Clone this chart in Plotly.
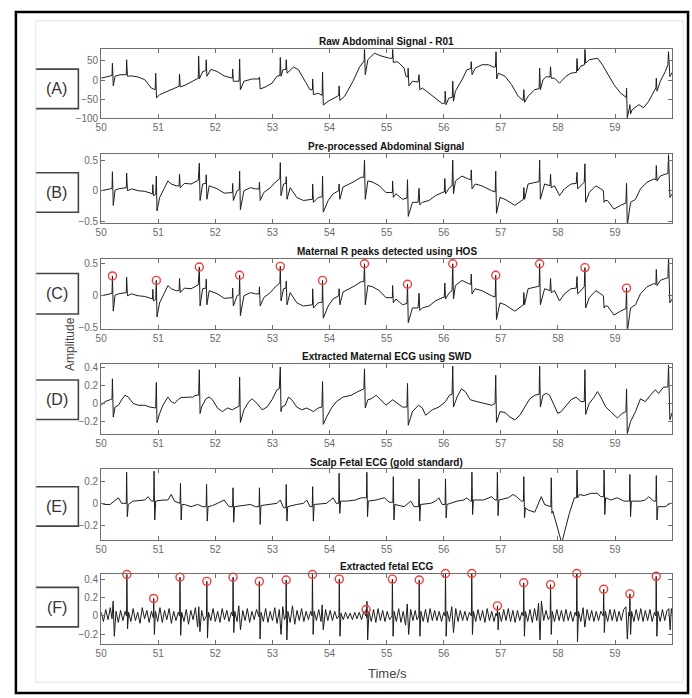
import plotly.graph_objects as go

W, H = 692, 698

# ---------------- data (time in s, amplitude) ----------------
raw_abd = [(50.000, 5), (50.069, 8), (50.156, 11), (50.190, 12), (50.197, 44), (50.212, -15), (50.243, 10),
           (50.330, 14), (50.440, 14), (50.446, 53), (50.460, 10), (50.532, 11), (50.648, 8), (50.764, 1),
           (50.880, -21), (50.945, -25), (50.955, 18), (50.970, -46), (51.024, -38), (51.169, -29), (51.285, -21),
           (51.365, -16), (51.372, 16), (51.385, -18), (51.487, -12), (51.632, 1), (51.700, 5), (51.707, 63),
           (51.720, 3), (51.777, 22), (51.834, 25), (51.840, 53), (51.852, 10), (51.921, 28), (52.037, 22),
           (52.153, 11), (52.269, 5), (52.297, 5), (52.303, 29), (52.315, -3), (52.415, -3), (52.425, 55),
           (52.438, -25), (52.500, -3), (52.645, 3), (52.765, 3), (52.772, 8), (52.785, -23), (52.876, -18),
           (52.992, -8), (53.079, 10), (53.130, 12), (53.137, 59), (53.150, 10), (53.183, 27), (53.235, 28),
           (53.241, 53), (53.255, 18), (53.368, 34), (53.455, 27), (53.571, -3), (53.657, -25), (53.700, -25),
           (53.704, 3), (53.717, -38), (53.802, -34), (53.870, -40), (53.877, 21), (53.890, -65), (53.976, -55),
           (54.091, -46), (54.160, -40), (54.167, -15), (54.180, -53), (54.265, -42), (54.381, -10), (54.410, -3),
           (54.525, 34), (54.583, 48), (54.605, 50), (54.612, 85), (54.625, 14), (54.670, 53), (54.786, 70),
           (54.901, 63), (55.046, 57), (55.100, 57), (55.104, 85), (55.117, 46), (55.191, 48), (55.307, 31),
           (55.336, 10), (55.370, 8), (55.376, 31), (55.390, -15), (55.451, -3), (55.550, -5), (55.567, 14),
           (55.580, -25), (55.625, -21), (55.741, -34), (55.856, -47), (55.972, -61), (56.018, -60), (56.025, -29),
           (56.040, -64), (56.088, -47), (56.150, -45), (56.157, -3), (56.170, -55), (56.204, -29), (56.319, 1),
           (56.406, 27), (56.475, 30), (56.481, 48), (56.495, 14), (56.551, 31), (56.667, 40), (56.782, 40),
           (56.869, 34), (56.905, 34), (56.915, 74), (56.928, 3), (56.956, 18), (57.072, 10), (57.187, -12),
           (57.303, -42), (57.390, -53), (57.402, -25), (57.415, -58), (57.477, -42), (57.593, -25), (57.670, -22),
           (57.679, 31), (57.692, -25), (57.737, 1), (57.795, 9), (57.860, 8), (57.870, 35), (57.882, 5),
           (57.940, 5), (58.026, -8), (58.142, 10), (58.229, 18), (58.325, 20), (58.333, 56), (58.345, 24),
           (58.403, 37), (58.465, 40), (58.472, 85), (58.485, 44), (58.547, 53), (58.692, 57), (58.779, 40),
           (58.866, 18), (58.981, -12), (59.097, -34), (59.155, -42), (59.195, -45), (59.201, -21), (59.214, -98),
           (59.255, -70), (59.259, -64), (59.271, -88), (59.300, -77), (59.415, -64), (59.502, -72), (59.589, -55),
           (59.715, -20), (59.722, 5), (59.735, -29), (59.792, -3), (59.878, 22), (59.925, 40), (59.936, 74),
           (59.960, 9), (60.000, 20)]

pre_abd = [(50.000, 0.00), (50.069, 0.01), (50.156, 0.03), (50.190, 0.04), (50.197, 0.31), (50.212, -0.24),
           (50.243, 0.01), (50.301, 0.03), (50.388, 0.05), (50.440, 0.05), (50.446, 0.29), (50.460, 0.00),
           (50.532, 0.03), (50.648, 0.00), (50.764, -0.01), (50.880, -0.05), (50.900, -0.05), (50.905, 0.10),
           (50.915, -0.08), (50.955, -0.06), (50.966, 0.24), (50.978, -0.33), (51.024, -0.11), (51.111, 0.05),
           (51.169, 0.16), (51.227, 0.11), (51.314, 0.08), (51.365, 0.08), (51.372, 0.27), (51.385, 0.05),
           (51.458, 0.12), (51.574, 0.11), (51.661, 0.16), (51.700, 0.17), (51.719, 0.45), (51.732, -0.16),
           (51.777, 0.11), (51.834, 0.12), (51.840, 0.26), (51.852, -0.14), (51.892, 0.08), (52.037, 0.03),
           (52.153, -0.04), (52.269, -0.03), (52.297, -0.03), (52.303, 0.12), (52.315, -0.16), (52.380, 0.00),
           (52.418, 0.02), (52.425, 0.32), (52.438, -0.31), (52.500, 0.00), (52.616, 0.05), (52.703, 0.03),
           (52.765, 0.03), (52.772, 0.14), (52.785, -0.16), (52.847, -0.03), (52.963, 0.05), (53.050, 0.14),
           (53.108, 0.19), (53.130, 0.20), (53.137, 0.46), (53.150, -0.08), (53.194, 0.11), (53.235, 0.12),
           (53.241, 0.23), (53.255, -0.14), (53.310, 0.05), (53.426, -0.11), (53.542, -0.16), (53.657, -0.14),
           (53.700, -0.14), (53.704, 0.11), (53.717, -0.19), (53.802, -0.11), (53.870, -0.10), (53.877, 0.24),
           (53.890, -0.35), (53.976, -0.16), (54.062, -0.05), (54.160, 0.00), (54.167, 0.11), (54.180, -0.14),
           (54.236, 0.06), (54.410, 0.14), (54.554, 0.22), (54.600, 0.22), (54.612, 0.50), (54.625, -0.14),
           (54.670, 0.16), (54.757, 0.14), (54.873, 0.08), (54.988, -0.03), (55.075, -0.03), (55.100, -0.03),
           (55.104, 0.16), (55.117, -0.11), (55.162, -0.05), (55.278, -0.14), (55.355, -0.12), (55.365, 0.18),
           (55.378, -0.42), (55.451, -0.19), (55.550, -0.19), (55.567, 0.04), (55.580, -0.23), (55.625, -0.19),
           (55.741, -0.16), (55.856, -0.08), (55.972, -0.03), (56.010, -0.02), (56.018, 0.20), (56.030, -0.05),
           (56.099, 0.05), (56.145, 0.08), (56.157, 0.50), (56.170, -0.05), (56.204, 0.16), (56.319, 0.24),
           (56.435, 0.19), (56.475, 0.18), (56.481, 0.34), (56.495, 0.03), (56.551, 0.11), (56.667, 0.08),
           (56.840, 0.00), (56.900, -0.02), (56.910, 0.32), (56.923, -0.37), (56.985, -0.11), (57.072, -0.14),
           (57.245, -0.24), (57.361, -0.16), (57.395, -0.14), (57.402, 0.05), (57.415, -0.14), (57.477, 0.11),
           (57.593, 0.14), (57.670, 0.15), (57.679, 0.50), (57.692, -0.14), (57.766, 0.11), (57.860, 0.08),
           (57.870, 0.27), (57.882, 0.05), (57.940, 0.08), (58.026, -0.08), (58.113, 0.03), (58.229, 0.11),
           (58.320, 0.12), (58.333, 0.30), (58.345, 0.03), (58.460, 0.14), (58.472, 0.44), (58.485, -0.19),
           (58.547, -0.03), (58.663, 0.08), (58.750, 0.03), (58.795, 0.00), (58.808, -0.19), (58.825, -0.16),
           (58.866, -0.16), (58.981, -0.30), (59.097, -0.24), (59.190, -0.20), (59.201, 0.12), (59.214, -0.57),
           (59.259, -0.27), (59.271, -0.19), (59.358, -0.14), (59.444, 0.03), (59.560, 0.14), (59.676, 0.19),
           (59.715, 0.18), (59.722, 0.41), (59.735, 0.16), (59.792, 0.24), (59.878, 0.27), (59.925, 0.28),
           (59.936, 0.59), (59.960, -0.11), (60.000, -0.05)]

maternal_peak_t = [50.197, 50.966, 51.719, 52.425, 53.137, 53.877, 54.612, 55.365, 56.157, 56.910,
                   57.679, 58.472, 59.201, 59.936]
maternal_peak_v = [0.31, 0.24, 0.45, 0.32, 0.46, 0.24, 0.50, 0.18, 0.50, 0.32, 0.50, 0.44, 0.12, 0.59]

mat_ecg = [(50.000, -0.02), (50.069, 0.02), (50.156, 0.04), (50.190, 0.05), (50.197, 0.27), (50.212, -0.15),
           (50.243, -0.04), (50.301, -0.02), (50.359, 0.04), (50.417, 0.09), (50.475, 0.07), (50.561, 0.00),
           (50.648, -0.02), (50.764, -0.02), (50.851, -0.04), (50.955, -0.05), (50.966, 0.23), (50.978, -0.21),
           (51.024, -0.11), (51.082, -0.02), (51.169, 0.07), (51.227, 0.02), (51.285, 0.00), (51.343, 0.04),
           (51.400, 0.065), (51.516, 0.065), (51.603, 0.07), (51.661, 0.09), (51.707, 0.09), (51.719, 0.37),
           (51.732, -0.11), (51.759, -0.04), (51.834, 0.05), (51.892, 0.07), (51.950, 0.04), (52.037, -0.05),
           (52.124, -0.09), (52.211, -0.05), (52.297, -0.07), (52.384, -0.04), (52.415, -0.03), (52.425, 0.29),
           (52.438, -0.21), (52.500, -0.07), (52.587, 0.02), (52.645, 0.05), (52.731, 0.00), (52.818, -0.07),
           (52.905, -0.04), (52.992, 0.04), (53.079, 0.15), (53.119, 0.16), (53.137, 0.40), (53.150, -0.09),
           (53.166, -0.04), (53.223, -0.02), (53.281, 0.07), (53.339, 0.04), (53.426, -0.04), (53.513, -0.07),
           (53.600, -0.05), (53.715, -0.09), (53.802, -0.05), (53.866, -0.04), (53.877, 0.24), (53.890, -0.23),
           (53.947, -0.15), (54.034, -0.05), (54.120, 0.02), (54.236, 0.07), (54.381, 0.09), (54.497, 0.13),
           (54.583, 0.15), (54.600, 0.16), (54.612, 0.38), (54.625, -0.05), (54.670, 0.04), (54.728, 0.05),
           (54.815, 0.09), (54.901, 0.04), (54.988, -0.02), (55.104, 0.04), (55.191, 0.00), (55.278, -0.04),
           (55.355, -0.04), (55.365, 0.22), (55.378, -0.24), (55.451, -0.09), (55.556, -0.02), (55.625, -0.05),
           (55.683, -0.13), (55.799, -0.07), (55.914, -0.04), (56.030, 0.02), (56.099, 0.09), (56.145, 0.10),
           (56.157, 0.41), (56.170, -0.04), (56.233, 0.07), (56.308, 0.16), (56.377, 0.13), (56.464, 0.04),
           (56.580, 0.02), (56.725, 0.00), (56.840, -0.02), (56.898, 0.00), (56.910, 0.31), (56.923, -0.21),
           (56.985, -0.09), (57.072, -0.10), (57.158, -0.15), (57.245, -0.18), (57.332, -0.13), (57.419, -0.04),
           (57.506, 0.05), (57.593, 0.09), (57.670, 0.10), (57.679, 0.41), (57.692, -0.04), (57.737, 0.09),
           (57.795, 0.11), (57.853, 0.09), (57.940, -0.04), (57.998, -0.11), (58.055, -0.09), (58.142, -0.02),
           (58.229, 0.04), (58.316, 0.07), (58.403, 0.02), (58.460, 0.02), (58.472, 0.37), (58.485, -0.12),
           (58.547, 0.00), (58.634, 0.07), (58.692, 0.13), (58.750, 0.07), (58.837, -0.04), (58.924, -0.09),
           (59.039, -0.16), (59.126, -0.11), (59.190, -0.09), (59.201, 0.16), (59.214, -0.33), (59.271, -0.20),
           (59.358, -0.09), (59.444, 0.05), (59.531, 0.02), (59.618, 0.09), (59.705, 0.15), (59.763, 0.11),
           (59.850, 0.18), (59.925, 0.18), (59.936, 0.42), (59.960, -0.18), (60.000, -0.10)]

scalp_fecg = [(50.000, 0.00), (50.069, -0.01), (50.156, -0.01), (50.301, 0.05), (50.360, 0.00), (50.440, 0.00),
              (50.446, 0.28), (50.458, -0.12), (50.475, -0.01), (50.561, 0.02), (50.764, 0.03), (50.822, 0.06),
              (50.880, 0.02), (50.920, 0.02), (50.926, 0.29), (50.938, -0.15), (50.955, 0.02), (51.082, 0.03),
              (51.169, 0.03), (51.227, 0.08), (51.285, 0.02), (51.382, 0.00), (51.389, 0.18), (51.401, -0.15),
              (51.415, -0.01), (51.458, -0.01), (51.574, -0.03), (51.690, -0.01), (51.780, -0.03), (51.839, -0.03),
              (51.846, 0.17), (51.858, -0.16), (51.872, -0.03), (51.950, -0.02), (52.037, 0.00), (52.153, 0.03),
              (52.240, -0.03), (52.302, -0.03), (52.309, 0.14), (52.321, -0.17), (52.335, -0.03), (52.500, -0.02),
              (52.616, -0.01), (52.700, -0.03), (52.765, -0.03), (52.772, 0.14), (52.784, -0.19), (52.798, -0.02),
              (52.963, -0.01), (53.079, 0.00), (53.137, 0.03), (53.194, -0.04), (53.234, -0.04), (53.241, 0.17),
              (53.253, -0.16), (53.267, -0.03), (53.426, -0.01), (53.542, 0.00), (53.600, 0.03), (53.657, -0.03),
              (53.697, -0.03), (53.704, 0.15), (53.716, -0.16), (53.730, -0.01), (53.947, 0.00), (54.062, 0.05),
              (54.120, 0.00), (54.160, 0.00), (54.167, 0.27), (54.179, -0.09), (54.193, 0.02), (54.300, 0.02),
              (54.450, 0.03), (54.554, 0.05), (54.646, 0.05), (54.653, 0.28), (54.665, -0.12), (54.679, 0.02),
              (54.815, 0.03), (54.959, 0.05), (55.046, 0.01), (55.109, 0.01), (55.116, 0.24), (55.128, -0.15),
              (55.142, -0.01), (55.307, -0.03), (55.422, 0.02), (55.480, -0.03), (55.560, -0.03), (55.567, 0.22),
              (55.579, -0.16), (55.593, -0.01), (55.770, 0.00), (55.856, 0.02), (55.914, 0.05), (55.972, -0.01),
              (56.023, -0.01), (56.030, 0.22), (56.042, -0.13), (56.056, -0.01), (56.233, 0.02), (56.348, 0.03),
              (56.406, 0.05), (56.464, 0.02), (56.486, 0.02), (56.493, 0.28), (56.505, -0.10), (56.519, 0.03),
              (56.696, 0.03), (56.782, 0.05), (56.840, 0.06), (56.898, 0.03), (56.932, 0.03), (56.939, 0.28),
              (56.951, -0.11), (56.965, 0.03), (57.130, 0.05), (57.216, 0.08), (57.274, 0.06), (57.361, 0.02),
              (57.395, 0.02), (57.402, 0.24), (57.414, -0.13), (57.430, -0.04), (57.477, -0.06), (57.593, -0.08),
              (57.708, 0.06), (57.766, -0.01), (57.853, -0.03), (57.875, -0.03), (57.882, 0.23), (57.894, -0.09),
              (57.910, -0.07), (57.969, -0.17), (58.026, -0.29), (58.067, -0.36), (58.113, -0.26), (58.200, -0.09),
              (58.287, 0.05), (58.326, 0.05), (58.333, 0.30), (58.345, 0.05), (58.374, 0.08), (58.461, 0.07),
              (58.576, 0.09), (58.692, 0.09), (58.750, 0.06), (58.801, 0.06), (58.808, 0.30), (58.820, -0.10),
              (58.834, 0.05), (58.924, 0.03), (59.039, 0.05), (59.155, 0.02), (59.252, 0.02), (59.259, 0.26),
              (59.271, -0.12), (59.285, 0.02), (59.444, 0.02), (59.531, 0.03), (59.589, 0.06), (59.676, 0.02),
              (59.715, 0.02), (59.722, 0.25), (59.734, -0.15), (59.750, -0.03), (59.878, -0.03), (59.965, 0.00),
              (60.000, 0.00)]

ext_fecg = [(50.00, 0.04), (50.04, -0.06), (50.08, 0.07), (50.12, -0.04), (50.16, 0.09), (50.19, -0.03),
            (50.21, 0.16), (50.23, -0.22), (50.26, 0.05), (50.30, -0.07), (50.34, 0.06), (50.38, -0.05),
            (50.42, 0.05), (50.444, 0.00), (50.45, 0.45), (50.462, -0.14), (50.48, 0.04),
            (50.52, -0.06), (50.56, 0.08), (50.60, -0.05), (50.64, 0.04), (50.68, -0.08), (50.72, 0.09),
            (50.76, -0.03), (50.80, 0.06), (50.84, -0.07), (50.88, 0.05), (50.914, -0.02), (50.92, 0.19),
            (50.932, -0.20), (50.95, 0.05),
            (50.99, -0.06), (51.03, 0.09), (51.07, -0.07), (51.11, 0.06), (51.15, -0.04), (51.19, 0.08),
            (51.23, -0.08), (51.27, 0.05), (51.31, -0.05), (51.35, 0.04), (51.374, 0.00), (51.38, 0.42),
            (51.392, -0.21), (51.41, 0.04),
            (51.45, -0.06), (51.49, 0.07), (51.53, -0.09), (51.57, 0.06), (51.61, -0.04), (51.65, 0.09),
            (51.69, -0.12), (51.71, 0.10), (51.73, -0.17), (51.76, 0.06), (51.80, -0.05), (51.844, 0.00),
            (51.85, 0.375), (51.862, -0.24), (51.88, 0.04),
            (51.92, -0.05), (51.96, 0.08), (52.00, -0.06), (52.04, 0.05), (52.08, -0.07), (52.12, 0.08),
            (52.16, -0.04), (52.20, 0.06), (52.24, -0.06), (52.28, 0.04), (52.304, 0.00), (52.31, 0.42),
            (52.322, -0.18), (52.34, 0.05),
            (52.38, -0.06), (52.41, 0.11), (52.44, -0.15), (52.48, 0.06), (52.52, -0.05), (52.56, 0.08),
            (52.60, -0.07), (52.64, 0.05), (52.68, -0.04), (52.72, 0.07), (52.764, -0.01), (52.77, 0.375),
            (52.782, -0.25), (52.80, 0.04),
            (52.84, -0.06), (52.88, 0.08), (52.92, -0.07), (52.96, 0.05), (53.00, -0.05), (53.04, 0.09),
            (53.08, -0.08), (53.12, 0.07), (53.15, -0.20), (53.18, 0.10), (53.21, -0.04), (53.234, 0.00),
            (53.24, 0.39), (53.252, -0.26), (53.27, 0.05),
            (53.31, -0.07), (53.35, 0.11), (53.39, -0.09), (53.43, 0.06), (53.47, -0.05), (53.51, 0.08),
            (53.55, -0.06), (53.59, 0.05), (53.63, -0.04), (53.67, 0.05), (53.694, 0.00), (53.70, 0.45),
            (53.712, -0.20), (53.73, 0.05),
            (53.77, -0.05), (53.81, 0.07), (53.85, -0.06), (53.87, 0.12), (53.89, -0.15), (53.93, 0.07),
            (53.97, -0.05), (54.01, 0.06), (54.05, -0.05), (54.09, 0.05), (54.13, -0.03), (54.164, 0.00),
            (54.17, 0.40), (54.182, -0.22), (54.20, 0.03),
            (54.24, -0.04), (54.28, 0.04), (54.32, -0.03), (54.36, 0.03), (54.40, -0.04), (54.44, 0.04),
            (54.48, -0.03), (54.52, 0.04), (54.56, -0.04), (54.60, 0.05), (54.634, 0.00), (54.64, 0.07),
            (54.648, -0.02), (54.655, 0.16), (54.667, -0.26), (54.69, 0.05),
            (54.73, -0.06), (54.77, 0.07), (54.81, -0.07), (54.85, 0.08), (54.89, -0.05), (54.93, 0.06),
            (54.97, -0.06), (55.01, 0.05), (55.05, -0.04), (55.094, 0.00), (55.10, 0.40), (55.112, -0.22),
            (55.13, 0.05),
            (55.17, -0.06), (55.21, 0.08), (55.25, -0.07), (55.29, 0.05), (55.33, -0.10), (55.36, 0.13),
            (55.385, -0.20), (55.42, 0.07), (55.46, -0.05), (55.50, 0.06), (55.53, -0.04), (55.564, 0.00),
            (55.57, 0.39), (55.582, -0.22), (55.60, 0.05),
            (55.64, -0.06), (55.68, 0.07), (55.72, -0.07), (55.76, 0.08), (55.80, -0.05), (55.84, 0.06),
            (55.88, -0.05), (55.92, 0.05), (55.96, -0.06), (56.00, 0.04), (56.024, 0.00), (56.03, 0.46),
            (56.042, -0.22), (56.06, 0.05),
            (56.10, -0.06), (56.14, 0.10), (56.17, -0.18), (56.21, 0.08), (56.25, -0.06), (56.29, 0.06),
            (56.33, -0.05), (56.37, 0.05), (56.41, -0.05), (56.45, 0.04), (56.484, 0.00), (56.49, 0.46),
            (56.502, -0.20), (56.52, 0.05),
            (56.56, -0.06), (56.60, 0.07), (56.64, -0.05), (56.68, 0.06), (56.72, -0.07), (56.76, 0.08),
            (56.80, -0.05), (56.84, 0.05), (56.88, -0.06), (56.914, 0.03), (56.934, 0.00), (56.94, 0.11),
            (56.952, -0.15), (56.97, 0.04),
            (57.01, -0.06), (57.05, 0.07), (57.09, -0.05), (57.13, 0.08), (57.17, -0.06), (57.21, 0.06),
            (57.25, -0.07), (57.29, 0.06), (57.33, -0.05), (57.37, 0.04), (57.394, 0.00), (57.40, 0.36),
            (57.412, -0.22), (57.43, 0.05),
            (57.47, -0.06), (57.51, 0.07), (57.55, -0.07), (57.59, 0.08), (57.63, -0.05), (57.66, 0.14),
            (57.685, -0.26), (57.71, 0.16), (57.75, -0.05), (57.79, 0.06), (57.83, -0.04), (57.864, 0.00),
            (57.87, 0.34), (57.882, -0.20), (57.90, 0.05),
            (57.94, -0.06), (57.98, 0.07), (58.02, -0.05), (58.06, 0.06), (58.10, -0.06), (58.14, 0.07),
            (58.18, -0.05), (58.22, 0.05), (58.26, -0.06), (58.30, 0.04), (58.324, 0.00), (58.33, 0.46),
            (58.342, -0.28), (58.36, 0.05),
            (58.40, -0.06), (58.44, 0.09), (58.47, -0.12), (58.51, 0.07), (58.55, -0.05), (58.59, 0.06),
            (58.63, -0.06), (58.67, 0.05), (58.71, -0.05), (58.75, 0.05), (58.794, 0.00), (58.80, 0.29),
            (58.812, -0.18), (58.83, 0.05),
            (58.87, -0.06), (58.91, 0.07), (58.95, -0.05), (58.99, 0.07), (59.03, -0.06), (59.07, 0.05),
            (59.11, -0.05), (59.15, 0.07), (59.19, 0.10), (59.215, -0.25), (59.24, 0.04), (59.254, 0.00),
            (59.26, 0.24), (59.272, -0.20), (59.29, 0.05),
            (59.33, -0.06), (59.37, 0.07), (59.41, -0.05), (59.45, 0.08), (59.49, -0.06), (59.53, 0.06),
            (59.57, -0.05), (59.61, 0.07), (59.65, -0.06), (59.69, 0.04), (59.714, 0.00), (59.72, 0.43),
            (59.732, -0.22), (59.75, 0.05),
            (59.79, -0.06), (59.83, 0.07), (59.87, -0.05), (59.91, 0.06), (59.94, 0.08), (59.965, -0.15),
            (59.985, 0.08), (60.00, 0.02)]

fetal_peak_t = [50.45, 50.92, 51.38, 51.85, 52.31, 52.77, 53.24, 53.70, 54.17, 54.64, 55.10, 55.57, 56.03,
                56.49, 56.94, 57.40, 57.87, 58.33, 58.80, 59.26, 59.72]
fetal_peak_v = [0.45, 0.19, 0.42, 0.375, 0.42, 0.375, 0.39, 0.45, 0.40, 0.07, 0.40, 0.39, 0.46, 0.46, 0.11,
                0.36, 0.34, 0.46, 0.29, 0.24, 0.43]

panel_titles = ["Raw Abdominal Signal - R01", "Pre-processed Abdominal Signal",
                "Maternal R peaks detected using HOS", "Extracted Maternal ECG using SWD",
                "Scalp Fetal ECG (gold standard)", "Extracted fetal ECG"]
panel_tags = ["(A)", "(B)", "(C)", "(D)", "(E)", "(F)"]
x_ticks = [50, 51, 52, 53, 54, 55, 56, 57, 58, 59]
y_ticks = [[-100, -50, 0, 50], [-0.5, 0, 0.5], [-0.5, 0, 0.5], [-0.2, 0, 0.2, 0.4], [-0.2, 0, 0.2],
           [-0.2, 0, 0.2, 0.4]]
y_ranges = [[-100, 80], [-0.53, 0.6], [-0.515, 0.58], [-0.34, 0.43], [-0.33, 0.31], [-0.3, 0.46]]

# ---------------- layout geometry (pixels) ----------------
X0, X1 = 96, 672
panel_px = [(47, 117), (153, 223), (259, 330), (366, 437), (472, 544), (578, 649)]
title_px = [39, 145, 252, 358, 465, 571]
tag_box_px = [(67, 107), (172, 212), (274, 315), (382, 422), (490, 530), (592, 632)]


def px(x):
    return x / W


def py(y):
    return 1 - y / H


signals = [raw_abd, pre_abd, pre_abd, mat_ecg, scalp_fecg, ext_fecg]

fig = go.Figure()
LINE = dict(color="#1c1c1c", width=1)
FONT = "Liberation Sans, Arial, Helvetica, sans-serif"

for i, sig in enumerate(signals):
    xa = "x" if i == 0 else f"x{i + 1}"
    ya = "y" if i == 0 else f"y{i + 1}"
    fig.add_trace(go.Scatter(x=[p[0] for p in sig], y=[p[1] for p in sig], mode="lines",
                             line=LINE, xaxis=xa, yaxis=ya, showlegend=False, hoverinfo="skip"))

MARK = dict(symbol="circle-open", size=8, color="#f23c3c", line=dict(width=1.4, color="#f23c3c"))
fig.add_trace(go.Scatter(x=maternal_peak_t, y=maternal_peak_v, mode="markers", marker=MARK,
                         xaxis="x3", yaxis="y3", showlegend=False, cliponaxis=False))
fig.add_trace(go.Scatter(x=fetal_peak_t, y=fetal_peak_v, mode="markers", marker=MARK,
                         xaxis="x6", yaxis="y6", showlegend=False, cliponaxis=False))

axis_common = dict(showline=True, linecolor="#6e6e6e", linewidth=1, mirror="ticks", ticks="inside",
                   ticklen=4, tickcolor="#6e6e6e", showgrid=False, zeroline=False,
                   tickfont=dict(size=10, color="#6a6a6a", family=FONT))

layout = dict(width=W, height=H, margin=dict(l=0, r=0, t=0, b=0), paper_bgcolor="white",
              plot_bgcolor="white", showlegend=False)

annotations = []
shapes = []
for i in range(6):
    top, bot = panel_px[i]
    xk = "xaxis" if i == 0 else f"xaxis{i + 1}"
    yk = "yaxis" if i == 0 else f"yaxis{i + 1}"
    ya = "y" if i == 0 else f"y{i + 1}"
    xa = "x" if i == 0 else f"x{i + 1}"
    layout[xk] = dict(axis_common, domain=[px(X0), px(X1)], range=[50, 60], tickvals=x_ticks,
                      anchor=ya)
    layout[yk] = dict(axis_common, domain=[py(bot), py(top)], range=y_ranges[i], tickvals=y_ticks[i],
                      anchor=xa)
    annotations.append(dict(text="<b>" + panel_titles[i] + "</b>", x=px((X0 + X1) / 2), y=py(title_px[i]),
                            xref="paper", yref="paper", showarrow=False,
                            font=dict(size=10, color="#111", family=FONT), xanchor="center",
                            yanchor="middle"))
    bt, bb = tag_box_px[i]
    annotations.append(dict(text=panel_tags[i], x=px(51), y=py((bt + bb) / 2), xref="paper", yref="paper",
                            showarrow=False, font=dict(size=16, color="#333", family=FONT),
                            xanchor="center", yanchor="middle"))
    shapes.append(dict(type="path", xref="paper", yref="paper",
                       path=f"M {px(30)},{py(bt)} L {px(73)},{py(bt)} L {px(73)},{py(bb)} L {px(30)},{py(bb)}",
                       line=dict(color="#444", width=1.6)))

annotations.append(dict(text="Amplitude", x=px(64), y=py(345), xref="paper", yref="paper", showarrow=False,
                        textangle=-90, xanchor="center", yanchor="middle",
                        font=dict(size=12, color="#444", family=FONT)))
annotations.append(dict(text="Time/s", x=px(385), y=py(679), xref="paper", yref="paper", showarrow=False,
                        xanchor="center", yanchor="middle",
                        font=dict(size=13, color="#444", family=FONT)))

# figure frames
shapes.append(dict(type="rect", xref="paper", yref="paper", x0=px(30), x1=px(683), y0=py(688), y1=py(18),
                   line=dict(color="#e2e2e2", width=1)))
shapes.append(dict(type="rect", xref="paper", yref="paper", x0=px(10), x1=px(688), y0=py(699), y1=py(9),
                   line=dict(color="#000", width=2.5)))

layout["annotations"] = annotations
layout["shapes"] = shapes
fig.update_layout(**layout)

fig.write_html("out.html", config={"displayModeBar": False},
               post_script="document.body.style.margin='0px';document.body.style.overflow='hidden';")
